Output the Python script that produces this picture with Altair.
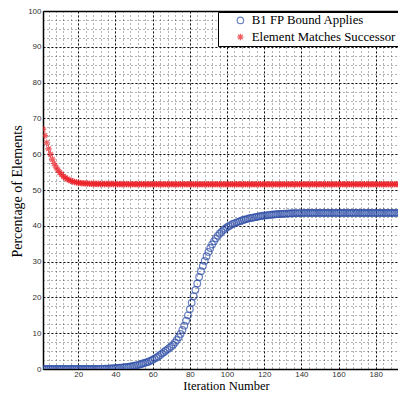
import altair as alt
import pandas as pd

iterations = list(range(1, 201))
series_names = ["B1 FP Bound Applies", "Element Matches Successor"]

b1_fp_bound = [
    0, 0, 0, 0, 0, 0, 0, 0, 0, 0,
    0, 0, 0, 0, 0, 0, 0, 0, 0, 0,
    0, 0, 0, 0, 0, 0, 0, 0, 0, 0,
    0.05, 0.05, 0.05, 0.1, 0.1, 0.1, 0.15, 0.15, 0.2, 0.25,
    0.3, 0.35, 0.4, 0.45, 0.5, 0.55, 0.6, 0.7, 0.8, 0.9,
    1.0, 1.1, 1.25, 1.4, 1.6, 1.75, 1.9, 2.1, 2.35, 2.6,
    2.9, 3.2, 3.5, 3.9, 4.3, 4.7, 5.1, 5.5, 5.9, 6.3,
    6.8, 7.4, 8.1, 8.9, 9.8, 10.9, 12.1, 13.5, 15.0, 16.7,
    18.5, 20.3, 22.1, 23.9, 25.7, 27.3, 28.8, 30.2, 31.5, 32.7,
    33.8, 34.8, 35.7, 36.5, 37.2, 37.8, 38.3, 38.8, 39.2, 39.6,
    39.9, 40.2, 40.5, 40.7, 40.9, 41.1, 41.3, 41.5, 41.7, 41.8,
    41.95, 42.1, 42.2, 42.3, 42.4, 42.5, 42.6, 42.7, 42.8, 42.85,
    42.9, 43.0, 43.05, 43.1, 43.15, 43.2, 43.25, 43.3, 43.3, 43.35,
    43.4, 43.4, 43.45, 43.45, 43.5, 43.5, 43.5, 43.55, 43.55, 43.55,
    43.6, 43.6, 43.6, 43.6, 43.6, 43.6, 43.6, 43.6, 43.6, 43.6,
    43.6, 43.6, 43.6, 43.6, 43.6, 43.6, 43.6, 43.6, 43.6, 43.6,
    43.6, 43.6, 43.6, 43.6, 43.6, 43.6, 43.6, 43.6, 43.6, 43.6,
    43.6, 43.6, 43.6, 43.6, 43.6, 43.6, 43.6, 43.6, 43.6, 43.6,
    43.6, 43.6, 43.6, 43.6, 43.6, 43.6, 43.6, 43.6, 43.6, 43.6,
    43.6, 43.6, 43.6, 43.6, 43.6, 43.6, 43.6, 43.6, 43.6, 43.6,
]

element_matches = [
    67.0, 65.2, 63.2, 61.5, 60.0, 58.6, 57.4, 56.4, 55.6, 54.9,
    54.3, 53.8, 53.4, 53.1, 52.8, 52.6, 52.4, 52.25, 52.1, 52.0,
    51.95, 51.9, 51.85, 51.8, 51.8, 51.75, 51.75, 51.7, 51.7, 51.7,
    51.7, 51.65, 51.7, 51.65, 51.7, 51.65, 51.65, 51.7, 51.65, 51.65,
    51.65, 51.6, 51.65, 51.65, 51.6, 51.65, 51.6, 51.65, 51.6, 51.6,
    51.65, 51.6, 51.6, 51.65, 51.6, 51.6, 51.6, 51.65, 51.6, 51.6,
    51.6, 51.6, 51.65, 51.6, 51.6, 51.6, 51.6, 51.6, 51.65, 51.6,
    51.6, 51.6, 51.6, 51.6, 51.6, 51.65, 51.6, 51.6, 51.6, 51.6,
    51.6, 51.6, 51.6, 51.6, 51.6, 51.6, 51.6, 51.6, 51.6, 51.6,
    51.6, 51.6, 51.6, 51.6, 51.6, 51.6, 51.6, 51.6, 51.6, 51.6,
    51.6, 51.6, 51.6, 51.6, 51.6, 51.6, 51.6, 51.6, 51.6, 51.6,
    51.6, 51.6, 51.6, 51.6, 51.6, 51.6, 51.6, 51.6, 51.6, 51.6,
    51.6, 51.6, 51.6, 51.6, 51.6, 51.6, 51.6, 51.6, 51.6, 51.6,
    51.6, 51.6, 51.6, 51.6, 51.6, 51.6, 51.6, 51.6, 51.6, 51.6,
    51.6, 51.6, 51.6, 51.6, 51.6, 51.6, 51.6, 51.6, 51.6, 51.6,
    51.6, 51.6, 51.6, 51.6, 51.6, 51.6, 51.6, 51.6, 51.6, 51.6,
    51.6, 51.6, 51.6, 51.6, 51.6, 51.6, 51.6, 51.6, 51.6, 51.6,
    51.6, 51.6, 51.6, 51.6, 51.6, 51.6, 51.6, 51.6, 51.6, 51.6,
    51.6, 51.6, 51.6, 51.6, 51.6, 51.6, 51.6, 51.6, 51.6, 51.6,
    51.6, 51.6, 51.6, 51.6, 51.6, 51.6, 51.6, 51.6, 51.6, 51.6,
]

x_major = [20, 40, 60, 80, 100, 120, 140, 160, 180]
x_minor = list(range(4, 200, 4))
y_major = [0, 10, 20, 30, 40, 50, 60, 70, 80, 90, 100]
y_minor = [i * 2.5 for i in range(41)]

series_colors = ["#2f4fa8", "#ec1c24"]
star = "M-1,0L1,0M0,-1L0,1M-0.7,-0.7L0.7,0.7M-0.7,0.7L0.7,-0.7"

df = pd.DataFrame({
    "iteration": iterations + iterations,
    "value": b1_fp_bound + element_matches,
    "series": [series_names[0]] * len(iterations) + [series_names[1]] * len(iterations),
})

xscale = alt.Scale(domain=[1, 192], nice=False, zero=False)
yscale = alt.Scale(domain=[0, 100], nice=False, zero=False)

minor = alt.Chart(df).mark_point(opacity=0, size=1).encode(
    x=alt.X("iteration:Q", scale=xscale, axis=alt.Axis(
        orient="bottom", values=x_minor, grid=True, gridDash=[1, 3],
        gridColor="#000", gridOpacity=0.6, gridWidth=1,
        labels=False, ticks=False, domain=False, title=None)),
    y=alt.Y("value:Q", scale=yscale, axis=alt.Axis(
        orient="left", values=y_minor, grid=True, gridDash=[1, 3],
        gridColor="#000", gridOpacity=0.6, gridWidth=1,
        labels=False, ticks=False, domain=False, title=None)),
)

legend = alt.Legend(
    title=None, orient="none", legendX=175, legendY=1,
    fillColor="white", strokeColor="black",
    padding=2, symbolOffset=14, labelOffset=5, rowPadding=2.6,
    labelFont="Liberation Serif", labelFontSize=12.8, labelColor="black",
    labelLimit=400, symbolSize=42, symbolStrokeWidth=1.2,
)

points = alt.Chart(df).mark_point(filled=False, size=44, strokeWidth=1.2, clip=True).encode(
    x=alt.X("iteration:Q", scale=xscale, axis=alt.Axis(
        orient="bottom", values=x_major, grid=True, gridDash=[2, 2],
        gridColor="#000", gridWidth=1, gridOpacity=0.9,
        labelFont="Liberation Sans", labelFontSize=8, labelColor="#333",
        labelPadding=1, ticks=False, domain=True, domainColor="#000",
        domainWidth=1.5, title="Iteration Number",
        titleFont="Liberation Serif", titleFontSize=12.5,
        titleFontWeight="normal", titleColor="#000",
        titleX=183, titleY=16, titleBaseline="middle", titleAlign="center")),
    y=alt.Y("value:Q", scale=yscale, axis=alt.Axis(
        orient="left", values=y_major, grid=True, gridDash=[2, 2],
        gridColor="#000", gridWidth=1, gridOpacity=0.9,
        labelFont="Liberation Sans", labelFontSize=8, labelColor="#333",
        labelPadding=2, ticks=False, domain=True, domainColor="#000",
        domainWidth=1.5, title="Percentage of Elements",
        titleFont="Liberation Serif", titleFontSize=14,
        titleFontWeight="normal", titleColor="#000",
        titleX=-26, titleY=180, titleAngle=270,
        titleBaseline="middle", titleAlign="center")),
    color=alt.Color("series:N", scale=alt.Scale(domain=series_names, range=series_colors), legend=legend),
    shape=alt.Shape("series:N", scale=alt.Scale(domain=series_names, range=["circle", star]), legend=legend),
)

top = alt.Chart(df).mark_point(opacity=0, size=1).encode(
    x=alt.X("iteration:Q", scale=xscale, axis=alt.Axis(
        orient="top", grid=False, labels=False, ticks=False, domain=True,
        domainColor="#000", domainWidth=1.5, title=None)),
    y=alt.Y("value:Q", scale=yscale, axis=None),
)

chart = alt.layer(minor, points, top).resolve_axis(
    x="independent", y="independent"
).properties(
    width=355, height=358,
    padding={"left": 35, "top": 3, "right": 0, "bottom": 23},
    autosize=alt.AutoSizeParams(type="none"),
    background="white",
).configure_view(stroke=None)

chart.save("out.html", embed_options={"renderer": "svg", "actions": False})
